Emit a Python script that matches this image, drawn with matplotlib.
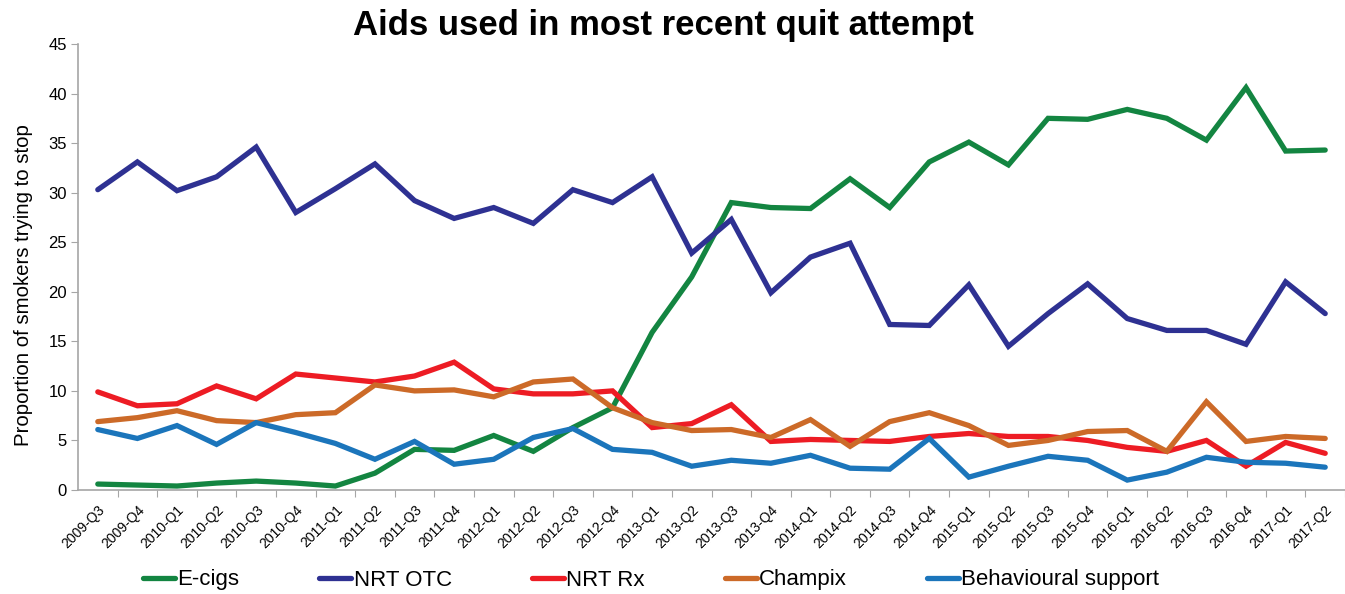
import matplotlib
matplotlib.use("Agg")
import matplotlib.pyplot as plt
import numpy as np

quarters = ["2009-Q3", "2009-Q4",
            "2010-Q1", "2010-Q2", "2010-Q3", "2010-Q4",
            "2011-Q1", "2011-Q2", "2011-Q3", "2011-Q4",
            "2012-Q1", "2012-Q2", "2012-Q3", "2012-Q4",
            "2013-Q1", "2013-Q2", "2013-Q3", "2013-Q4",
            "2014-Q1", "2014-Q2", "2014-Q3", "2014-Q4",
            "2015-Q1", "2015-Q2", "2015-Q3", "2015-Q4",
            "2016-Q1", "2016-Q2", "2016-Q3", "2016-Q4",
            "2017-Q1", "2017-Q2"]

ecigs = [0.6, 0.5, 0.4, 0.7, 0.9, 0.7, 0.4, 1.7, 4.1, 4.0, 5.5, 3.9, 6.3, 8.3,
         15.9, 21.5, 29.0, 28.5, 28.4, 31.4, 28.5, 33.1, 35.1, 32.8, 37.5, 37.4,
         38.4, 37.5, 35.3, 40.6, 34.2, 34.3]
nrt_otc = [30.3, 33.1, 30.2, 31.6, 34.6, 28.0, 30.4, 32.9, 29.2, 27.4, 28.5, 26.9,
           30.3, 29.0, 31.6, 23.9, 27.3, 19.9, 23.5, 24.9, 16.7, 16.6, 20.7, 14.5,
           17.8, 20.8, 17.3, 16.1, 16.1, 14.7, 21.0, 17.8]
nrt_rx = [9.9, 8.5, 8.7, 10.5, 9.2, 11.7, 11.3, 10.9, 11.5, 12.9, 10.2, 9.7, 9.7,
          10.0, 6.3, 6.7, 8.6, 4.9, 5.1, 5.0, 4.9, 5.4, 5.7, 5.4, 5.4, 5.0, 4.3,
          3.9, 5.0, 2.4, 4.8, 3.7]
champix = [6.9, 7.3, 8.0, 7.0, 6.8, 7.6, 7.8, 10.6, 10.0, 10.1, 9.4, 10.9, 11.2,
           8.3, 6.8, 6.0, 6.1, 5.3, 7.1, 4.4, 6.9, 7.8, 6.5, 4.5, 5.0, 5.9, 6.0,
           3.9, 8.9, 4.9, 5.4, 5.2]
behavioural = [6.1, 5.2, 6.5, 4.6, 6.8, 5.8, 4.7, 3.1, 4.9, 2.6, 3.1, 5.3, 6.2,
               4.1, 3.8, 2.4, 3.0, 2.7, 3.5, 2.2, 2.1, 5.2, 1.3, 2.4, 3.4, 3.0,
               1.0, 1.8, 3.3, 2.8, 2.7, 2.3]

series_names = ["E-cigs", "NRT OTC", "NRT Rx", "Champix", "Behavioural support"]
series_colors = ["#138541", "#2E3192", "#ED1C24", "#CC6A28", "#1B75BB"]
series_values = [ecigs, nrt_otc, nrt_rx, champix, behavioural]
y_ticks = [0, 5, 10, 15, 20, 25, 30, 35, 40, 45]

plt.rcParams['font.family'] = ['Liberation Sans', 'DejaVu Sans']

fig = plt.figure(figsize=(13.45, 5.94), dpi=100)
ax = fig.add_axes([78/1345, 1-490/594, (1345-78)/1345, (490-44)/594])

x = np.arange(len(quarters))
for name, col, vals in zip(series_names, series_colors, series_values):
    ax.plot(x, vals, color=col, lw=3.8, label=name, solid_joinstyle='miter',
            solid_capstyle='round')

ax.set_xlim(-0.5, len(quarters) - 0.5)
ax.set_ylim(0, 45)
ax.set_yticks(y_ticks)
ax.set_yticklabels([str(v) for v in y_ticks], fontsize=12)

ax.set_xticks(np.arange(len(quarters)) + 0.5)
ax.set_xticklabels([])
ax.set_xticks(x, minor=True)
ax.set_xticklabels(quarters, minor=True, rotation=45, ha='right',
                   rotation_mode='anchor', fontsize=10)
ax.tick_params(axis='x', which='minor', length=0, pad=9)
ax.tick_params(axis='x', which='major', length=5, color='#A6A6A6')
ax.tick_params(axis='y', length=5, color='#A6A6A6', pad=3)

for s in ['top', 'right']:
    ax.spines[s].set_visible(False)
for s in ['left', 'bottom']:
    ax.spines[s].set_color('#A6A6A6')
    ax.spines[s].set_linewidth(1.2)

ax.set_ylabel("Proportion of smokers trying to stop", fontsize=14.7)
ax.yaxis.set_label_coords(-0.0355, 0.46)
fig.text(663/1345, 1-25/594, "Aids used in most recent quit attempt",
         fontsize=25, fontweight='bold', ha='center', va='center')

fig.legend(loc='center', bbox_to_anchor=(651/1345, 1-580/594), ncol=5,
           frameon=False, fontsize=16, handlelength=1.45, handletextpad=0.1,
           columnspacing=3.6)

fig.savefig("out.png", dpi=100)
